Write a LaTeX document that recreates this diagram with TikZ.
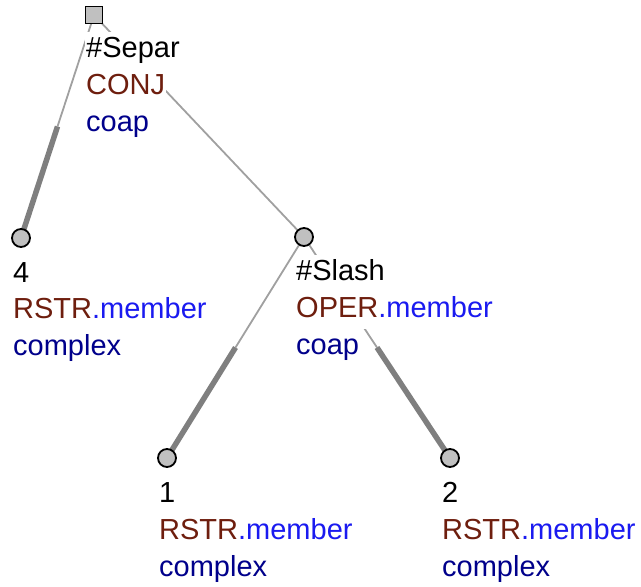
\documentclass[tikz,border=0pt]{standalone}
\usepackage{fontspec}
\setmainfont{Liberation Sans}
\usetikzlibrary{calc,backgrounds}
\definecolor{funcol}{HTML}{6E1E0E}
\definecolor{memcol}{HTML}{1A1AF0}
\definecolor{typcol}{HTML}{00008B}
\definecolor{nodefill}{HTML}{C0C0C0}
\definecolor{thincol}{HTML}{A0A0A0}
\definecolor{thickcol}{HTML}{7F7F7F}
\tikzset{
  lbl/.style={anchor=base west, fill=white, inner xsep=1pt, inner ysep=0pt,
    text height=25pt, text depth=12pt, font=\fontsize{29}{37}\selectfont},
  tnode/.style={circle, draw=black, line width=1.8pt, fill=nodefill,
    minimum size=18pt, inner sep=0pt},
  rnode/.style={rectangle, draw=black, line width=1.8pt, fill=nodefill,
    minimum size=17pt, inner sep=0pt},
  thinedge/.style={draw=thincol, line width=1.8pt},
  thickedge/.style={draw=thickcol, line width=5.5pt},
}
\begin{document}
\begin{tikzpicture}[x=1pt,y=-1pt]
\useasboundingbox (0,0) rectangle (641,587);
% tree nodes
\node[rnode] (r) at (94,15) {};
\node[tnode] (a) at (21,238) {};
\node[tnode] (b) at (304,237) {};
\node[tnode] (c) at (167,458) {};
\node[tnode] (d) at (450,458) {};
% labels
\node[lbl] (r1) at (85,57) {\#Separ};
\node[lbl,text=funcol] (r2) at (85,94) {CONJ};
\node[lbl,text=typcol] (r3) at (85,131) {coap};
\node[lbl] (a1) at (12,282) {4};
\node[lbl] (a2) at (12,318) {{\color{funcol}RSTR}{\color{memcol}.member}};
\node[lbl,text=typcol] (a3) at (12,355) {complex};
\node[lbl] (b1) at (295,280) {\#Slash};
\node[lbl] (b2) at (295,317) {{\color{funcol}OPER}{\color{memcol}.member}};
\node[lbl,text=typcol] (b3) at (295,354) {coap};
\node[lbl] (c1) at (158,502) {1};
\node[lbl] (c2) at (158,539) {{\color{funcol}RSTR}{\color{memcol}.member}};
\node[lbl,text=typcol] (c3) at (158,576) {complex};
\node[lbl] (d1) at (441,502) {2};
\node[lbl] (d2) at (441,539) {{\color{funcol}RSTR}{\color{memcol}.member}};
\node[lbl,text=typcol] (d3) at (441,576) {complex};
% edges
\begin{pgfonlayer}{background}
\draw[thinedge] (r.center) -- ($(r.center)!0.5!(a.center)$);
\draw[thickedge] ($(r.center)!0.5!(a.center)$) -- (a.center);
\draw[thinedge] (r.center) -- (b.center);
\draw[thinedge] (b.center) -- ($(b.center)!0.5!(c.center)$);
\draw[thickedge] ($(b.center)!0.5!(c.center)$) -- (c.center);
\draw[thinedge] (b.center) -- ($(b.center)!0.5!(d.center)$);
\draw[thickedge] ($(b.center)!0.5!(d.center)$) -- (d.center);
\end{pgfonlayer}
\end{tikzpicture}
\end{document}
